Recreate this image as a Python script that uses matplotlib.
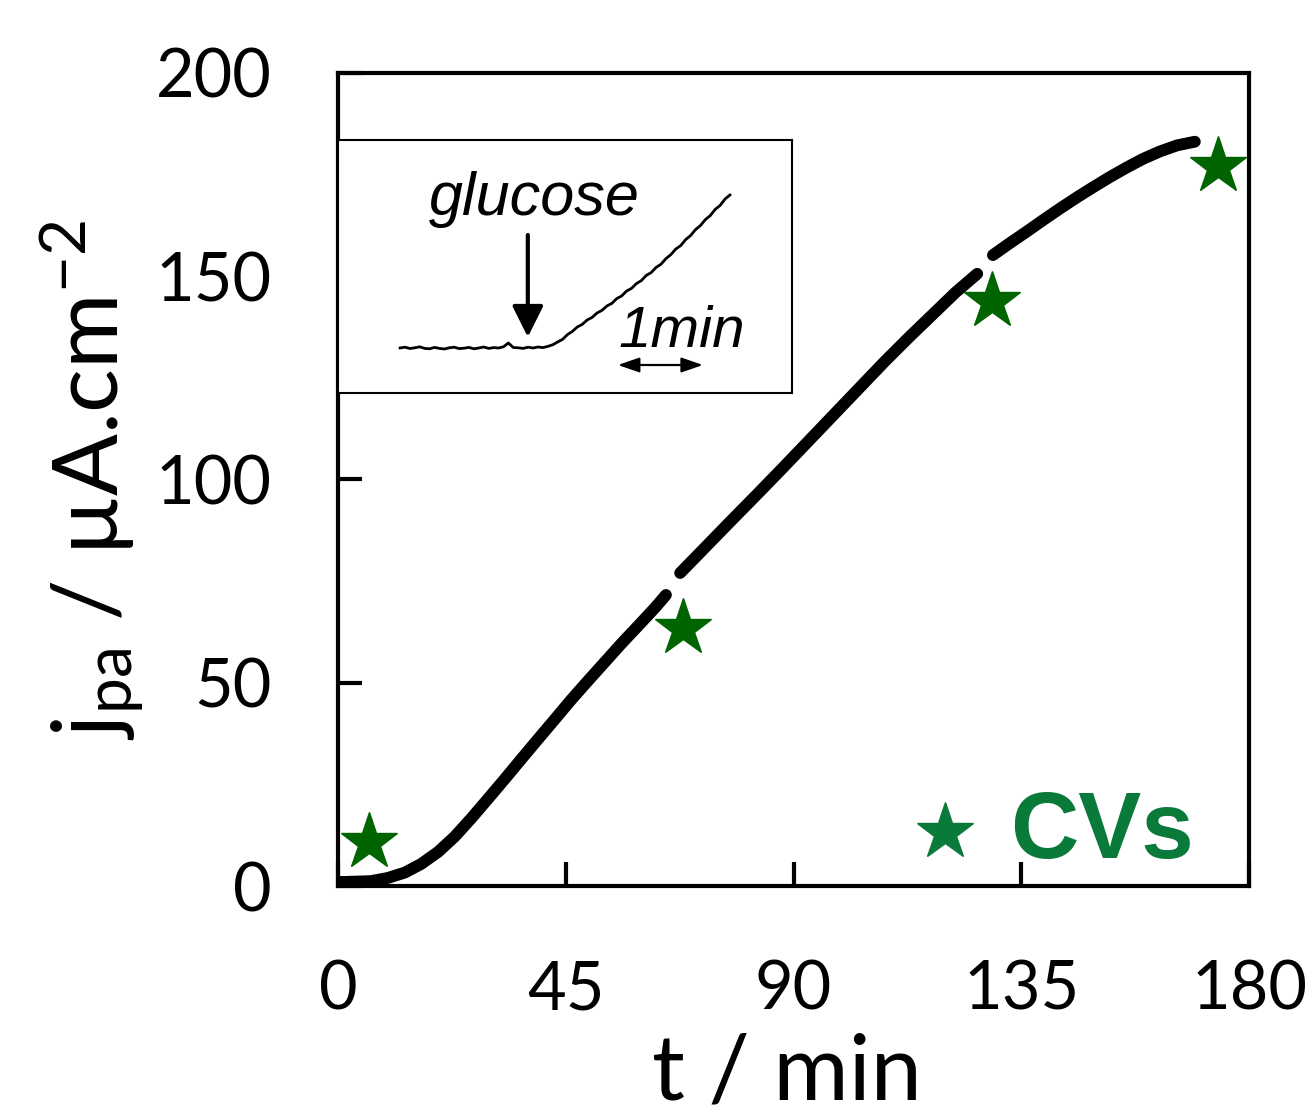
import numpy as np
import matplotlib
matplotlib.use("Agg")
import matplotlib.pyplot as plt

plt.rcParams['font.family'] = ['Lato', 'DejaVu Sans']
plt.rcParams['mathtext.fontset'] = 'custom'
plt.rcParams['mathtext.rm'] = 'Lato'
plt.rcParams['mathtext.it'] = 'Lato:italic'

# ---- main data: anodic peak current density vs time (three segments) ----
seg1_t = [0, 1.3, 6.5, 9.9, 13.2, 16.4, 19.8, 23.1, 26.3, 29.6, 33.0, 36.2, 39.5, 42.9,
          46.0, 49.4, 52.8, 55.9, 59.3, 62.6, 64.8]
seg1_j = [1.0, 1.0, 1.2, 2.0, 3.3, 5.4, 8.4, 12.2, 16.6, 21.4, 26.4, 31.2, 36.1, 41.1,
          45.7, 50.5, 55.2, 59.5, 64.0, 68.4, 71.6]
seg2_t = [67.6, 72, 77, 83.4, 88, 93, 98, 103, 108, 113, 118, 122, 126.3]
seg2_j = [77.0, 82.6, 89.0, 97.1, 103.0, 109.5, 116.0, 122.5, 129.0, 135.2, 141.2, 146.0, 150.6]
seg3_t = [129.4, 132.8, 136.1, 139.3, 142.7, 146.0, 149.2, 152.5, 155.9, 159.1, 162.4, 165.8, 169.3]
seg3_j = [155.2, 158.2, 161.0, 163.8, 166.7, 169.4, 171.9, 174.4, 176.8, 178.9, 180.7, 182.2, 183.1]

# CV points
cv_t = [6.1, 68.2, 129.2, 173.9]
cv_j = [10.8, 63.5, 144.0, 177.0]

# ---- inset data: chronoamperometric trace after glucose addition ----
inset_current = [45, 45.8, 44.5, 45.2, 46.2, 44.6, 44.2, 45.6, 44.6, 44, 45.2, 45.8, 44.4, 44.8, 45.6,
                 44.2, 45, 46, 44.6, 45.4, 45, 46.2, 50, 45.5, 45.2, 44.6, 45.8, 45, 46, 45.4,
                 46.6, 48.2, 51, 53.6, 58.4, 61.6, 66, 68.6, 73, 75.6, 80, 82.6, 87, 89.6, 94.4,
                 97, 102, 104.6, 109.4, 112.4, 117.6, 120.4, 125.6, 128.8, 134.4, 138.4, 144, 147.4,
                 153.4, 157.4, 163.4, 167.4, 173.4, 177.4, 183.6, 187.6, 194, 198]
inset_time = np.linspace(43.8, 276.7, len(inset_current))  # seconds
glucose_time = 134.0
scalebar = [197.6, 257.6]  # 1 min

fig = plt.figure(figsize=(13.07, 11.16), dpi=100)
ax = fig.add_axes([338/1307, 1-886/1116, (1249-338)/1307, (886-73)/1116])

for t, j in [(seg1_t, seg1_j), (seg2_t, seg2_j), (seg3_t, seg3_j)]:
    ax.plot(t, j, color='black', lw=8.5, solid_capstyle='round', solid_joinstyle='round', zorder=3)

ax.plot(cv_t, cv_j, ls='none', marker='*', ms=43, color='#006400', mec='#006400', zorder=4)

ax.set_xlim(0, 180)
ax.set_ylim(0, 200)
ax.set_xticks([0, 45, 90, 135, 180])
ax.set_yticks([0, 50, 100, 150, 200])
for s in ax.spines.values():
    s.set_linewidth(3)
ax.tick_params(direction='in', length=17, width=3, labelsize=48)
ax.tick_params(axis='x', pad=53)
ax.tick_params(axis='y', pad=48)

# legend-like annotation
ax.plot([0.666], [0.066], transform=ax.transAxes, marker='*', ms=43, color='#0a7a3a',
        ls='none', clip_on=False, zorder=5)
ax.text(0.738, 0.034, 'CVs', transform=ax.transAxes, fontsize=68, fontweight='bold',
        family='Liberation Sans', color='#0a7a3a', ha='left', va='baseline')

fig.text(92/1307, 1-480/1116, r'j$_\mathregular{pa}$ / µA.cm$^\mathregular{-2}$', rotation=90,
         ha='center', va='center', fontsize=66)
fig.text(787/1307, 1-1100/1116, 't / min', ha='center', va='baseline', fontsize=66)

# inset
iax = fig.add_axes([338/1307, 1-393/1116, (792-338)/1307, (393-140)/1116])
iax.plot(inset_time, inset_current, color='black', lw=2.0)
iax.set_xlim(0, 320.5)
iax.set_ylim(0, 253)
iax.set_xticks([])
iax.set_yticks([])
for s in iax.spines.values():
    s.set_linewidth(1.5)
iax.annotate('', xy=(glucose_time, 56), xytext=(glucose_time, 158),
             arrowprops=dict(arrowstyle='-|>,head_length=1.9,head_width=0.95', color='black', lw=3,
                             shrinkA=0, shrinkB=0))
iax.text(138.7, 178, 'glucose', fontsize=44, style='italic', family='Liberation Sans',
         ha='center', va='baseline')
iax.annotate('', xy=(scalebar[0], 28), xytext=(scalebar[1], 28),
             arrowprops=dict(arrowstyle='<|-|>,head_length=1.3,head_width=0.45', color='black', lw=1.6,
                             shrinkA=0, shrinkB=0))
iax.text(197.7, 46, '1min', fontsize=42, style='italic', family='Liberation Sans',
         ha='left', va='baseline')

fig.savefig('out.png', dpi=100)
